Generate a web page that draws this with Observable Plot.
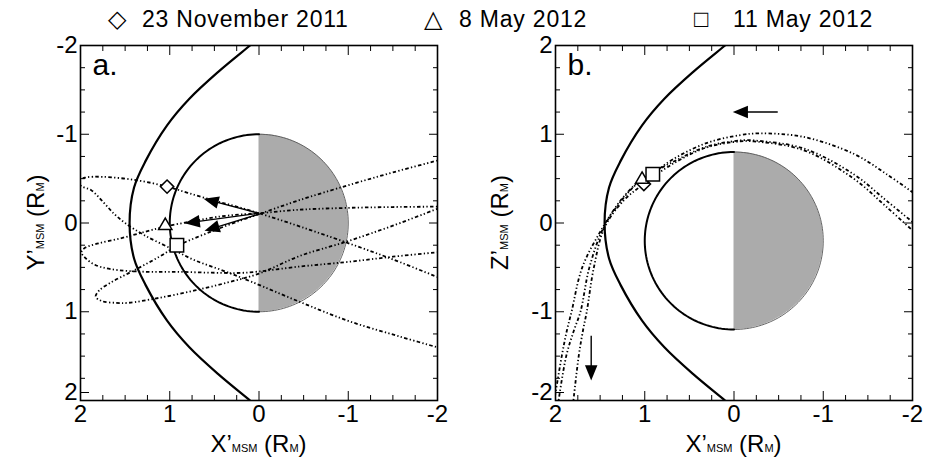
<!DOCTYPE html>
<html><head><meta charset="utf-8">
<script src="https://cdn.jsdelivr.net/npm/d3@7"></script>
<script src="https://cdn.jsdelivr.net/npm/@observablehq/plot@0.6"></script>
<style>
body{margin:0;background:#fff;font-family:"Liberation Sans",Arial,Helvetica,sans-serif;}
#wrap{position:relative;width:932px;height:465px;overflow:hidden;background:#fff}
#legend{position:relative;height:30px;width:932px;color:#000}
#legend span{position:absolute;white-space:nowrap}
#row{display:flex}
svg text{font-family:"Liberation Sans",Arial,Helvetica,sans-serif}
</style></head><body>
<div id="wrap"><div id="legend"></div><div id="row"></div></div>
<script>
// ---------------- data ----------------
const legendLabels = ["23 November 2011", "8 May 2012", "11 May 2012"];
const legendGlyphs = ["\u25C7", "\u25B3", "\u25A1"];
const majorTicks = [-2, -1, 0, 1, 2];
const minorTicks = [-1.75, -1.5, -1.25, -0.75, -0.5, -0.25, 0.25, 0.5, 0.75, 1.25, 1.5, 1.75];
const panelLetters = ["a.", "b."];

// magnetopause (same shape in both planes)
const mpLat = [-2.15, -2, -1.7, -1.4, -1.1, -0.7, -0.4, 0, 0.4, 0.7, 1.1, 1.4, 1.7, 2, 2.15];
const mpX   = [-0.08, 0.10, 0.46, 0.78, 1.03, 1.27, 1.40, 1.45, 1.40, 1.27, 1.03, 0.78, 0.46, 0.10, -0.08];

// planet: centre and radius (R_M)
const planetA_center = [0, 0];
const planetB_center = [0, -0.2];
const planetRadius = 1;

// panel a: X'-Y' orbit tracks
const trkA_nov_x = [-2.1, -1.5, -0.98, -0.46, 0, 0.27, 0.53, 0.80, 1.03, 1.36, 1.75, 1.95, 2.04, 1.98, 1.88, 1.74, 1.62, 1.50, 1.28, 0.98, 0.72, 0.42, 0.09, -0.46, -1.02, -1.58, -2.1];
const trkA_nov_y = [0.65, 0.41, 0.22, 0.04, -0.11, -0.19, -0.26, -0.34, -0.41, -0.48, -0.52, -0.51, -0.46, -0.41, -0.37, -0.23, -0.10, 0.0, 0.14, 0.29, 0.42, 0.53, 0.66, 0.89, 1.11, 1.28, 1.43];
const trkA_may8_x = [-2.1, -1.5, -0.98, -0.46, 0, 0.16, 0.46, 0.74, 1.05, 1.28, 1.54, 1.80, 1.95, 1.99, 1.95, 1.84, 1.66, 1.28, 0.91, 0.53, 0.16, -0.46, -0.98, -1.5, -2.1];
const trkA_may8_y = [-0.185, -0.18, -0.17, -0.15, -0.11, -0.10, -0.07, -0.02, 0.04, 0.10, 0.17, 0.23, 0.28, 0.33, 0.39, 0.47, 0.52, 0.55, 0.55, 0.56, 0.56, 0.49, 0.44, 0.38, 0.32];
const trkA_may11_x = [-2.1, -1.5, -0.98, -0.46, 0, 0.2, 0.52, 0.92, 1.10, 1.28, 1.47, 1.66, 1.79, 1.83, 1.76, 1.60, 1.47, 1.10, 0.72, 0.35, 0, -0.46, -0.98, -1.5, -2.1];
const trkA_may11_y = [-0.73, -0.57, -0.42, -0.26, -0.10, -0.03, 0.09, 0.26, 0.37, 0.47, 0.57, 0.67, 0.76, 0.83, 0.88, 0.90, 0.90, 0.84, 0.76, 0.67, 0.57, 0.37, 0.21, 0.03, -0.20];

// panel b: X'-Z' orbit tracks
const trkB_nov_x = [1.81, 1.74, 1.69, 1.65, 1.57, 1.45, 1.23, 1.01, 0.68, 0.31, -0.07, -0.22, -0.78, -1.34, -1.71, -2.05];
const trkB_nov_z = [-2.1, -1.5, -1.2, -1.0, -0.5, -0.05, 0.26, 0.44, 0.67, 0.85, 0.92, 0.92, 0.82, 0.50, 0.18, -0.13];
const trkB_may8_x = [1.98, 1.88, 1.79, 1.72, 1.62, 1.46, 1.24, 1.03, 0.68, 0.31, -0.07, -0.22, -0.78, -1.34, -1.71, -2.05];
const trkB_may8_z = [-2.1, -1.5, -1.2, -1.0, -0.5, -0.05, 0.28, 0.49, 0.69, 0.86, 0.93, 0.93, 0.84, 0.55, 0.25, -0.03];
const trkB_may11_x = [2.03, 1.93, 1.87, 1.82, 1.70, 1.47, 1.25, 1.05, 0.91, 0.68, 0.31, -0.07, -0.29, -0.78, -1.34, -1.71, -2.05];
const trkB_may11_z = [-2.1, -1.5, -1.2, -1.0, -0.5, -0.05, 0.28, 0.48, 0.56, 0.72, 0.90, 0.99, 1.01, 0.97, 0.78, 0.55, 0.31];

// event markers
const markA_x = [1.03, 1.05, 0.92];
const markA_y = [-0.41, 0.03, 0.25];
const markB_x = [1.01, 1.03, 0.91];
const markB_z = [0.44, 0.49, 0.55];

// direction arrows (shaft start -> head centre)
const arrA_x1 = [0, 0, 0];
const arrA_y1 = [-0.11, -0.11, -0.10];
const arrA_x2 = [0.53, 0.74, 0.52];
const arrA_y2 = [-0.25, -0.01, 0.06];
const arrB_x1 = [-0.49, 1.60];
const arrB_z1 = [1.25, -1.27];
const arrB_x2 = [-0.08, 1.60];
const arrB_z2 = [1.25, -1.68];

// ---------------- rendering ----------------
const W = 466, H = 435, MT = 15, MB = 65;
const dotSymbols = ["diamond2", "triangle2", "square2"];
const dotR = [6.0, 6.3, 8.6];
const fmt = d => String(d);
const zip = (xs, ys) => xs.map((x, i) => ({x, y: ys[i]}));
const arrowHead = {
  draw(ctx, size) {
    const r = Math.sqrt(size / Math.PI);
    ctx.moveTo(0, -1.05 * r);
    ctx.lineTo(0.78 * r, 0.85 * r);
    ctx.lineTo(-0.78 * r, 0.85 * r);
    ctx.closePath();
  }
};
function arc(c, a0, a1) {
  return d3.range(a0, a1 + 0.001, 2).map(a => ({
    x: c[0] + planetRadius * Math.cos(a * Math.PI / 180),
    y: c[1] + planetRadius * Math.sin(a * Math.PI / 180),
    x0: c[0]
  }));
}
function axes(bottomTick) {
  const blank = () => "";
  return [
    Plot.axisX(majorTicks, {anchor: "bottom", tickSize: -9, tickPadding: 13, tickFormat: fmt, fontSize: 24}),
    Plot.axisX(minorTicks, {anchor: "bottom", tickSize: -5, tickFormat: blank}),
    Plot.axisX(majorTicks, {anchor: "top", tickSize: -9, tickFormat: blank}),
    Plot.axisX(minorTicks, {anchor: "top", tickSize: -5, tickFormat: blank}),
    Plot.axisY(majorTicks.filter(t => t !== bottomTick), {anchor: "left", tickSize: -9, tickPadding: 12, tickFormat: fmt, fontSize: 24}),
    Plot.axisY([bottomTick], {anchor: "left", tickSize: -9, tickPadding: 12, tickFormat: fmt, fontSize: 24, dy: -8}),
    Plot.axisY(minorTicks, {anchor: "left", tickSize: -5, tickFormat: blank}),
    Plot.axisY(majorTicks, {anchor: "right", tickSize: -9, tickFormat: blank}),
    Plot.axisY(minorTicks, {anchor: "right", tickSize: -5, tickFormat: blank})
  ];
}
function panel({ml, mr, yDomain, yFlip, center, tracks, mx, my, arrows, letter}) {
  const day = arc(center, -90, 90);
  const night = arc(center, 90, 270);
  const mp = zip(mpX, mpLat);
  const marks = [
    Plot.areaX(night, {y: "y", x1: "x0", x2: "x", fill: "#ababab", curve: "linear"}),
    Plot.line(night, {x: "x", y: "y", stroke: "#555", strokeWidth: 0.9}),
    Plot.line(day, {x: "x", y: "y", stroke: "#000", strokeWidth: 2}),
    Plot.line(mp, {x: "x", y: "y", stroke: "#000", strokeWidth: 2.2, curve: "catmull-rom", clip: true}),
    ...tracks.map(t => Plot.line(t, {x: "x", y: "y", stroke: "#000", strokeWidth: 1.8,
        strokeDasharray: "3.5,2.3,1.3,2.3,1.3,2.3", strokeLinecap: "butt", curve: "catmull-rom", clip: true})),
    Plot.link(arrows, {x1: "x1", y1: "y1", x2: "x2", y2: "y2", stroke: "#000", strokeWidth: 1.4}),
    Plot.dot(arrows, {x: "x2", y: "y2", symbol: arrowHead, r: 8, fill: "#000", stroke: "none",
        rotate: d => Math.atan2(-(d.x2 - d.x1), -yFlip * (d.y2 - d.y1)) * 180 / Math.PI}),
    ...mx.map((x, i) => Plot.dot([{x, y: my[i]}], {x: "x", y: "y", symbol: dotSymbols[i], r: dotR[i],
        fill: "white", stroke: "#000", strokeWidth: 1.5})),
    Plot.text([letter], {frameAnchor: "top-left", dx: 12, dy: 8, fontSize: 30, textAnchor: "start", lineAnchor: "top"}),
    Plot.frame({stroke: "#000", strokeWidth: 1.6}),
    ...axes(yDomain[0])
  ];
  return Plot.plot({
    width: W, height: H, marginLeft: ml, marginRight: mr, marginTop: MT, marginBottom: MB,
    x: {domain: [2, -2]}, y: {domain: yDomain},
    style: {fontFamily: '"Liberation Sans", Arial, Helvetica, sans-serif', fontSize: "24px", background: "white", color: "#000", overflow: "visible"},
    marks
  });
}
function addTitle(svg, x, y, big, rotate) {
  const t = d3.select(svg).append("text")
    .attr("transform", `translate(${x},${y})` + (rotate ? " rotate(-90)" : ""))
    .attr("text-anchor", "middle").attr("font-size", 24).attr("fill", "#000");
  t.append("tspan").text(big + "\u2019");
  t.append("tspan").attr("font-size", 11).text("MSM");
  t.append("tspan").text(" (R");
  t.append("tspan").attr("font-size", 11).text("M");
  t.append("tspan").text(")");
}

// legend
const legendPos = [[108, 142], [424, 459], [694, 733]];
const lg = d3.select("#legend");
legendGlyphs.forEach((g, i) => {
  lg.append("span").style("left", legendPos[i][0] + "px").style("top", "5px").style("font-size", "24px").text(g);
  lg.append("span").style("left", legendPos[i][1] + "px").style("top", "6px").style("font-size", "23px")
    .style("letter-spacing", "0.8px").text(legendLabels[i]);
});

const svgA = panel({
  ml: 80, mr: 29, yDomain: [2, -2], yFlip: 1, center: planetA_center,
  tracks: [zip(trkA_nov_x, trkA_nov_y), zip(trkA_may8_x, trkA_may8_y), zip(trkA_may11_x, trkA_may11_y)],
  mx: markA_x, my: markA_y,
  arrows: arrA_x1.map((x1, i) => ({x1, y1: arrA_y1[i], x2: arrA_x2[i], y2: arrA_y2[i]})),
  letter: panelLetters[0]
});
const svgB = panel({
  ml: 89, mr: 20, yDomain: [-2, 2], yFlip: -1, center: planetB_center,
  tracks: [zip(trkB_nov_x, trkB_nov_z), zip(trkB_may8_x, trkB_may8_z), zip(trkB_may11_x, trkB_may11_z)],
  mx: markB_x, my: markB_z,
  arrows: arrB_x1.map((x1, i) => ({x1, y1: arrB_z1[i], x2: arrB_x2[i], y2: arrB_z2[i]})),
  letter: panelLetters[1]
});
const midY = MT + (H - MT - MB) / 2;
addTitle(svgA, (80 + W - 29) / 2, 422, "X", false);
addTitle(svgA, 44, midY, "Y", true);
addTitle(svgB, (89 + W - 20) / 2, 422, "X", false);
addTitle(svgB, 42, midY, "Z", true);
document.getElementById("row").append(svgA, svgB);
</script>
</body></html>
